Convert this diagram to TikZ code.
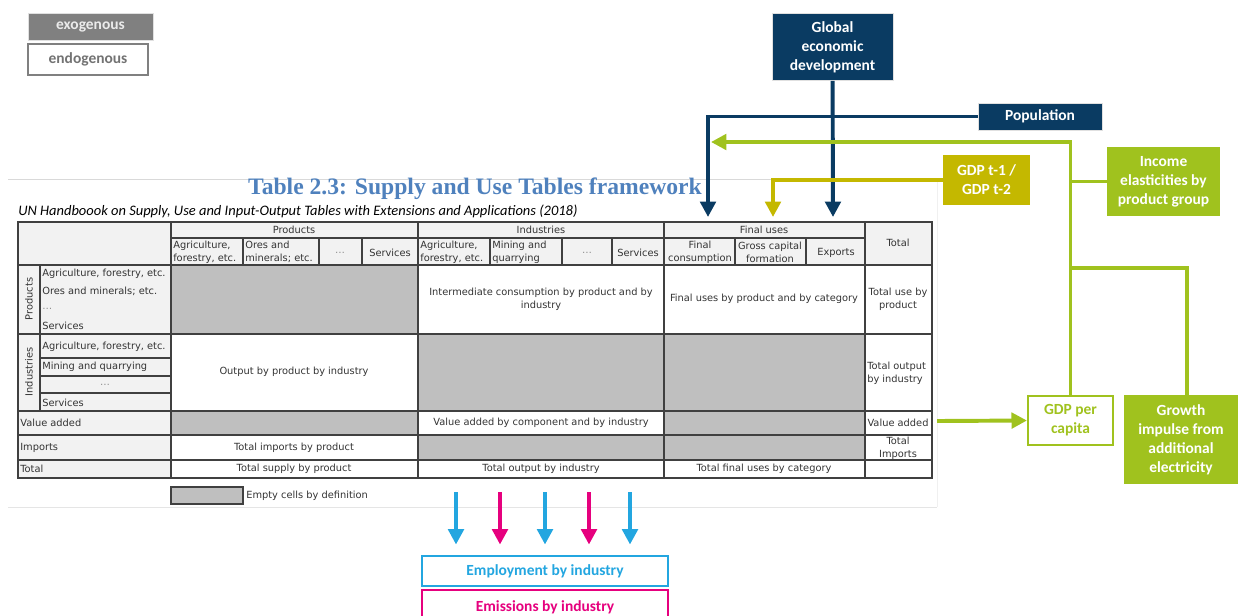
\documentclass[tikz,border=0pt]{standalone}
\usepackage{fontspec}
\setmainfont{DejaVu Sans}
\newfontfamily\boxfont{Carlito}
\newfontfamily\titlefont{Liberation Serif}
\usetikzlibrary{calc, positioning, arrows.meta}

\definecolor{devblue}{RGB}{10,59,98}
\definecolor{elastgreen}{RGB}{160,194,30}
\definecolor{lagyellow}{RGB}{196,184,0}
\definecolor{empcyan}{RGB}{35,166,224}
\definecolor{emimagenta}{RGB}{230,0,126}
\definecolor{emptygray}{RGB}{191,191,191}
\definecolor{headgray}{RGB}{242,242,242}
\definecolor{titleblue}{RGB}{79,129,189}

\begin{document}
\begin{tikzpicture} [x = 0.25mm, y = -0.25mm, >= {Triangle[width=11pt, length=11pt]},
  tabline/.style = {draw=black!75, line width=0.9pt},
  txt/.style = {font=\fontsize{7}{9}\selectfont, text=black!80, inner sep=0pt, align=center},
  txtl/.style = {txt, anchor=west, align=left},
  dots/.style = {txt, text=black!45},
  box/.style = {font=\boxfont\bfseries\fontsize{11}{13.5}\selectfont, align=center, inner sep=0pt, text=white},
  devbox/.style = {box, fill=devblue, draw=black!12, line width=0.6pt},
  devline/.style = {draw=devblue, line width=2.8pt},
  lagline/.style = {draw=lagyellow, line width=2.8pt},
  elastline/.style = {draw=elastgreen, line width=2.8pt}]

\useasboundingbox (0,0) rectangle (1238,615);

% frame of the table sheet
\draw [black!15, line width=0.6pt] (8,179) -- (935,179);
\draw [black!10, line width=0.6pt] (8,507) -- (937,507);
\draw [black!6, line width=0.6pt] (937,179) -- (937,507);

\node [font=\titlefont\bfseries\fontsize{16.8}{18}\selectfont, text=titleblue] (title) at (475,189) {Table 2.3: Supply and Use Tables framework};
\node [anchor=west, inner sep=0pt, font=\boxfont\itshape\fontsize{10.3}{12}\selectfont] (subtitle) at (18,211) {UN Handboook on Supply, Use and Input-Output Tables with Extensions and Applications (2018)};

% cell shading
\fill [headgray] (18,222) rectangle (932,265);
\fill [headgray] (18,265) rectangle (171,478);
\fill [emptygray] (171,265) rectangle (418,334);
\fill [emptygray] (418,334) rectangle (865,411);
\fill [emptygray] (171,411) rectangle (418,435);
\fill [emptygray] (664,411) rectangle (865,460);
\fill [emptygray] (418,435) rectangle (664,460);

% grid
\draw [tabline] (18,222) rectangle (932,478);
\foreach \y in {265, 334, 411, 435, 460}
  \draw [tabline] (18,\y) -- (932,\y);
\foreach \x in {171, 418, 664, 865}
  \draw [tabline] (\x,222) -- (\x,478);
\draw [tabline] (171,238) -- (865,238);
\foreach \x in {243, 319, 362, 490, 562, 612, 735, 806}
  \draw [tabline] (\x,238) -- (\x,265);
\draw [tabline] (40,265) -- (40,411);
\foreach \y in {358, 376, 393}
  \draw [tabline] (40,\y) -- (171,\y);

% column heads
\node [txt] (hprod) at (294,230) {Products};
\node [txt] (hind) at (541,230) {Industries};
\node [txt] (hfin) at (764,230) {Final uses};
\node [txt] (htot) at (898,243) {Total};
\node [txtl] (hp1) at (173,252) {Agriculture,\\forestry, etc.};
\node [txtl] (hp2) at (245,252) {Ores and\\minerals; etc.};
\node [dots] (hp3) at (340,253) {\dots};
\node [txt] (hp4) at (390,253) {Services};
\node [txtl] (hi1) at (420,252) {Agriculture,\\forestry, etc.};
\node [txtl] (hi2) at (492,252) {Mining and\\quarrying};
\node [dots] (hi3) at (587,253) {\dots};
\node [txt] (hi4) at (638,253) {Services};
\node [txt] (hf1) at (700,252) {Final\\consumption};
\node [txt] (hf2) at (770,252) {Gross capital\\formation};
\node [txt] (hf3) at (836,253) {Exports};

% row heads
\node [txt, rotate=90] (rprod) at (29,299) {Products};
\node [txt, rotate=90] (rind) at (29,372) {Industries};
\node [txtl] (rp1) at (42,274) {Agriculture, forestry, etc.};
\node [txtl] (rp2) at (42,291) {Ores and minerals; etc.};
\node [dots, anchor=west] (rp3) at (42,309) {\dots};
\node [txtl] (rp4) at (42,326) {Services};
\node [txtl] (ri1) at (42,347) {Agriculture, forestry, etc.};
\node [txtl] (ri2) at (42,367) {Mining and quarrying};
\node [dots] (ri3) at (105,385) {\dots};
\node [txtl] (ri4) at (42,403) {Services};
\node [txtl] (rva) at (20,423) {Value added};
\node [txtl] (rimp) at (20,448) {Imports};
\node [txtl] (rtot) at (20,469) {Total};

% cell entries
\node [txt] (interm) at (541,299) {Intermediate consumption by product and by\\industry};
\node [txt] (finuse) at (764,299) {Final uses by product and by category};
\node [txt] (totuse) at (898,299) {Total use by\\product};
\node [txt] (output) at (294,372) {Output by product by industry};
\node [txtl] (totout) at (867,373) {Total output\\by industry};
\node [txt] (vacomp) at (541,423) {Value added by component and by industry};
\node [txt] (vatot) at (898,423) {Value added};
\node [txt] (imprt) at (294,448) {Total imports by product};
\node [txt] (imptot) at (898,448) {Total\\Imports};
\node [txt] (supply) at (294,469) {Total supply by product};
\node [txt] (indout) at (541,469) {Total output by industry};
\node [txt] (catuse) at (764,469) {Total final uses by category};

% key of the table
\draw [tabline, fill=emptygray] (171,487) rectangle (243,504);
\node [txtl] (empty) at (246,496) {Empty cells by definition};

% drivers
\node [devbox, minimum width=30.25mm, minimum height=16.75mm] (glob) at (832.5,47) {Global\\economic\\development};
\node [devbox, minimum width=31mm, minimum height=6.75mm] (pop) at (1040,116.5) {Population};
\node [box, fill=lagyellow, minimum width=21.75mm, minimum height=12.5mm] (lag) at (986.5,180) {GDP t-1 /\\GDP t-2};
\node [box, fill=elastgreen, minimum width=28.25mm, minimum height=17.25mm] (elast) at (1163.5,181.5) {Income\\elasticities by\\product group};
\node [box, fill=white, draw=elastgreen, line width=1.5pt, text=elastgreen, minimum width=21.25mm, minimum height=12.25mm] (percap) at (1070.5,420.5) {GDP per\\capita};
\node [box, fill=elastgreen, minimum width=28.5mm, minimum height=22.25mm] (growth) at (1181,439.5) {Growth\\impulse from\\additional\\electricity};

\coordinate (fcon) at (708,217);
\coordinate (gcf) at (773,217);
\coordinate (expo) at (833,217);
\coordinate (fcside) at (711,142);
\coordinate (join) at (1071,268);
\coordinate (vaout) at (937,421);

\draw [devline, ->] (glob) -- (expo);
\draw [devline, ->] (pop.west) -| (fcon);
\draw [lagline, ->] (lag.west) -| (gcf);
\draw [elastline, ->] (percap.north) |- (fcside);
\draw [elastline] (elast.west) -- (elast.west -| percap.north);
\draw [elastline] ([xshift=1.4mm]growth.north) |- (join);
\draw [elastline, ->] (vaout) -- (percap.west);

% satellite accounts
\node [box, fill=white, draw=empcyan, line width=1.5pt, text=empcyan, minimum width=61.5mm, minimum height=7.5mm] (employ) at (545,571) {Employment by industry};
\node [box, fill=white, draw=emimagenta, line width=1.5pt, text=emimagenta, minimum width=61.5mm, minimum height=8.75mm] (emiss) at (545,607.5) {Emissions by industry};

\foreach \x/\c [count=\i] in {456/empcyan, 500/emimagenta, 545/empcyan, 589/emimagenta, 630/empcyan} {
  \coordinate (sat\i) at (\x,492);
  \draw [draw=\c, fill=\c, line width=2.8pt, ->, shorten >= 2.6mm] (sat\i) -- (sat\i |- employ.north);
}

% legend
\node [box, fill=black!50, draw=black!12, text=black!8, minimum width=31.25mm, minimum height=6.75mm] (exo) at (90.5,26.5) {exogenous};
\node [box, fill=white, draw=black!50, line width=1.2pt, text=black!55, minimum width=30mm, minimum height=7.75mm] (endo) at (88,59.5) {endogenous};

\end{tikzpicture}
\end{document}
